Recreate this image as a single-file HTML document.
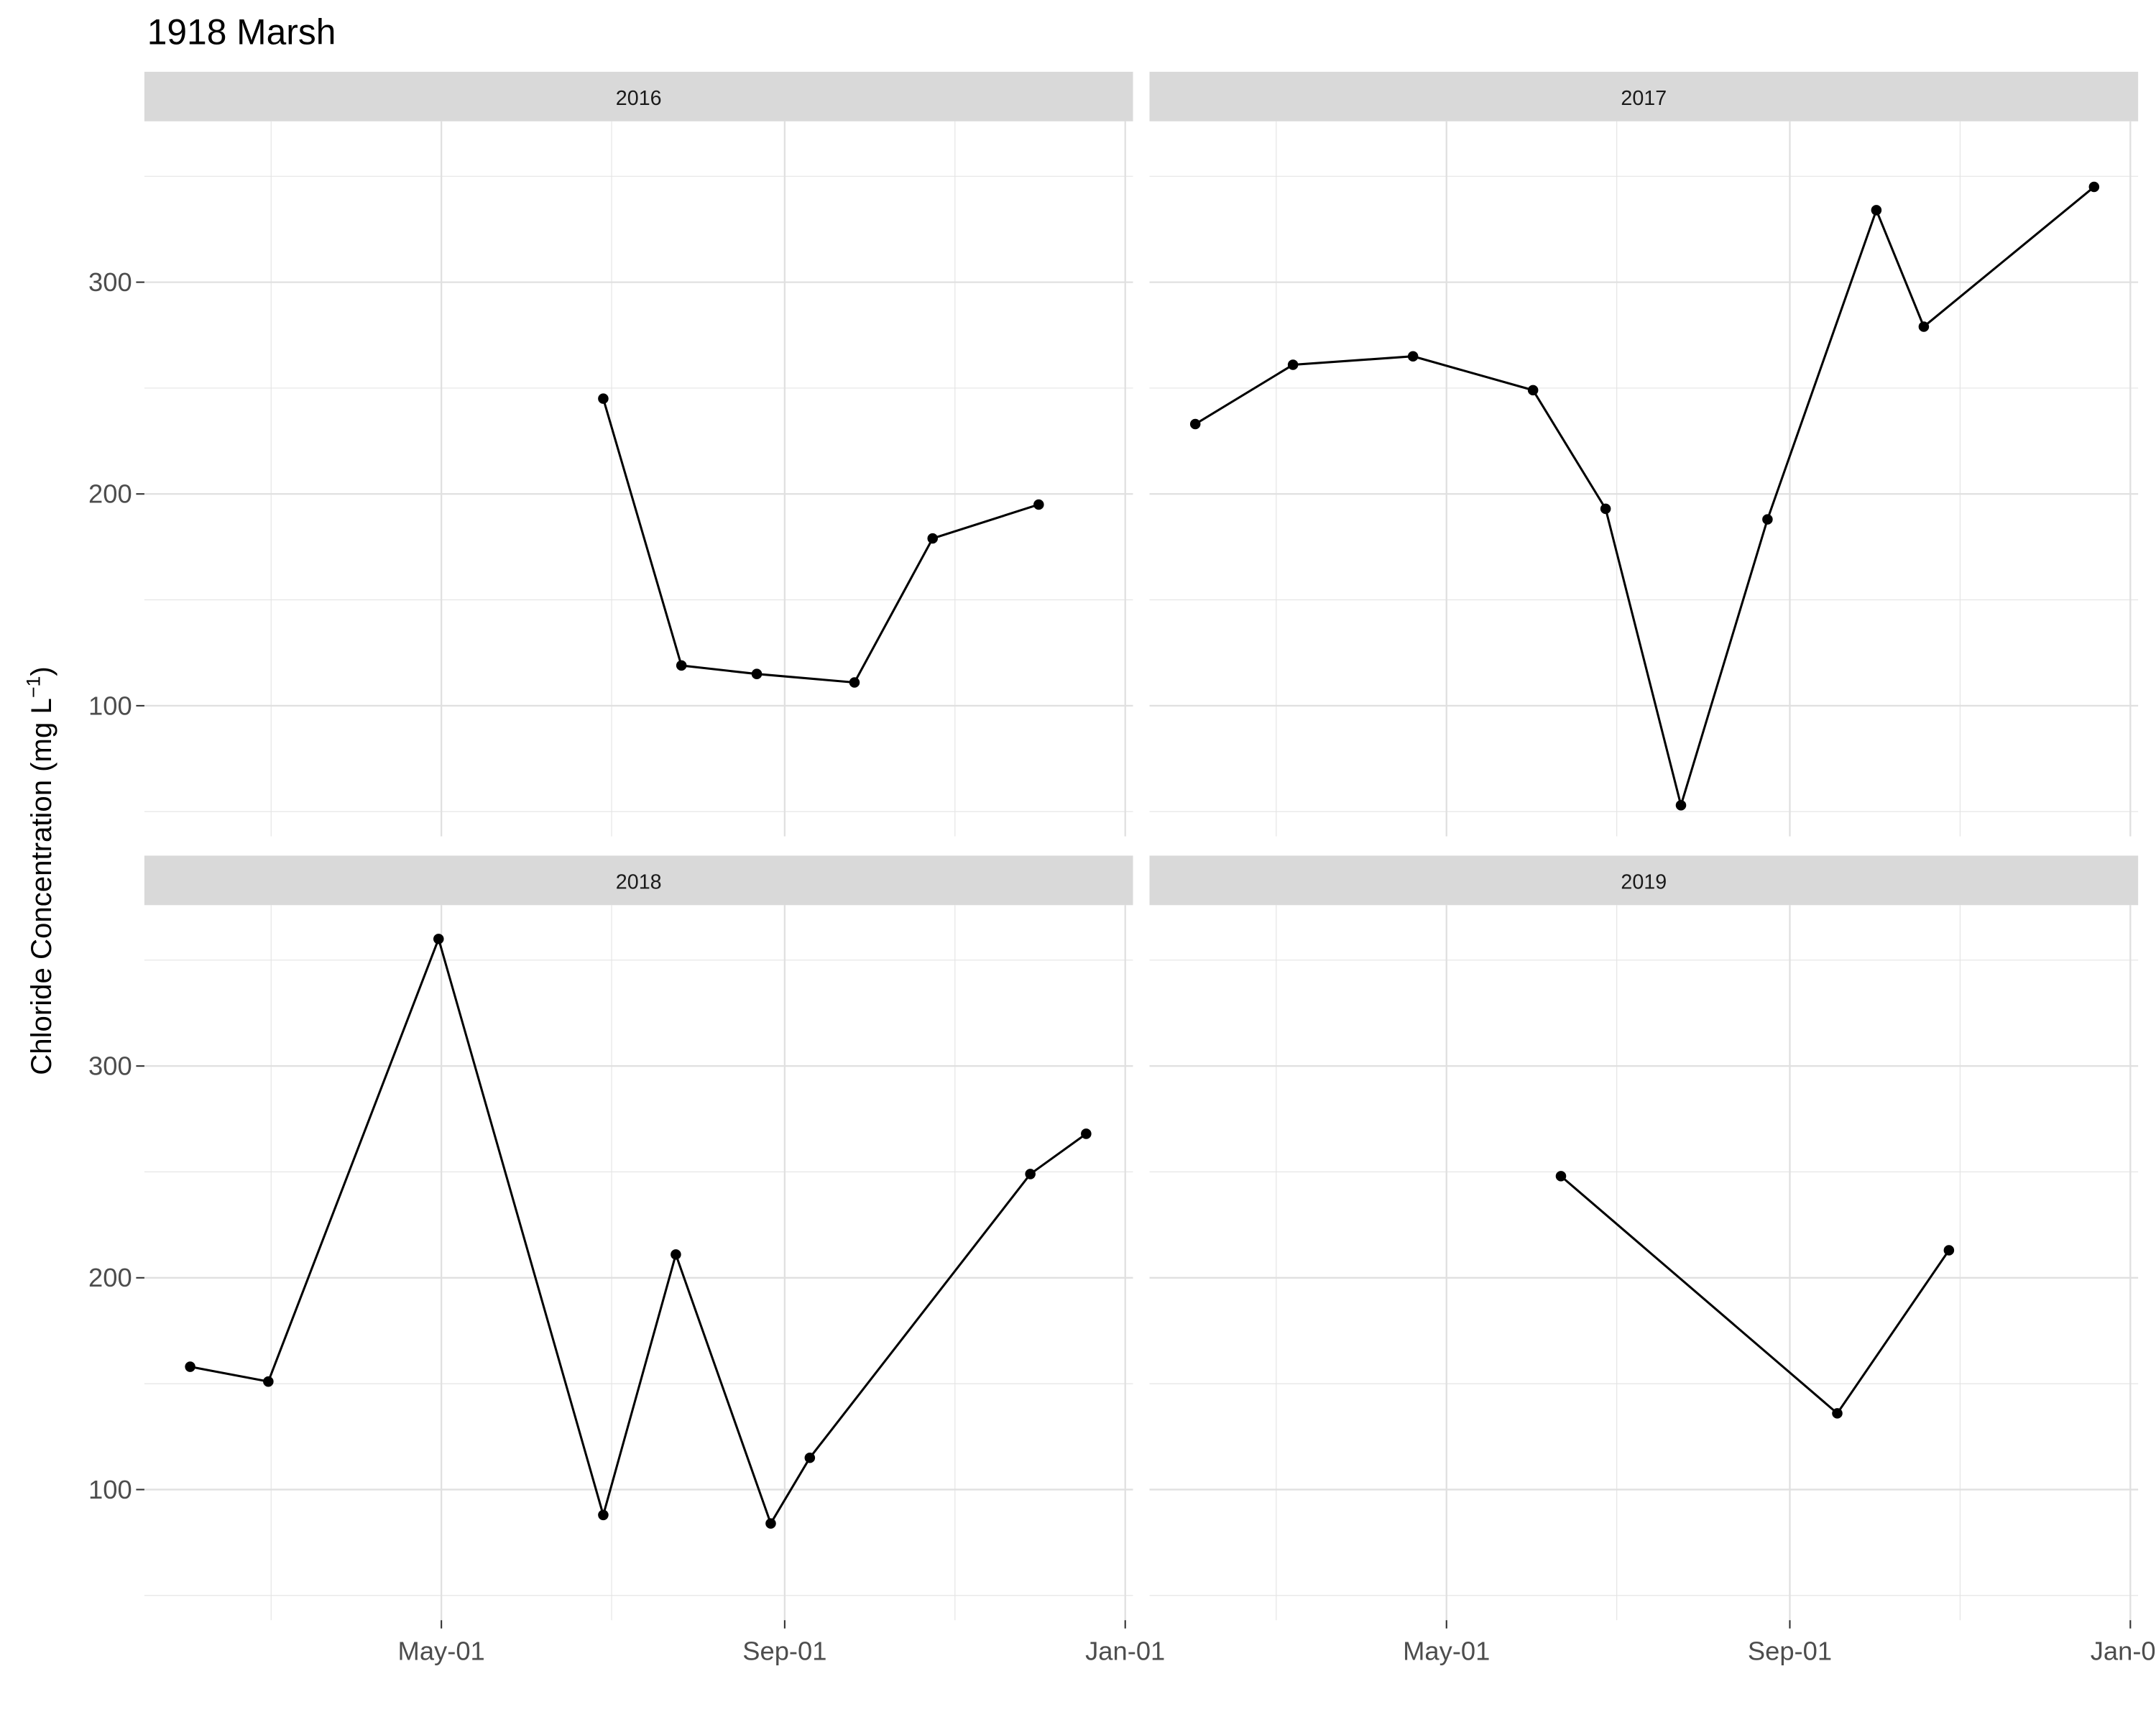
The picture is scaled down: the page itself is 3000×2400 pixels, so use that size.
<!DOCTYPE html>
<html><head><meta charset="utf-8"><style>
html,body{margin:0;padding:0;background:#fff;}
svg{display:block;font-family:"Liberation Sans",Arial,sans-serif;}
</style></head><body>
<svg id="chart" width="3000" height="2400" viewBox="0 0 1568 1254" xmlns="http://www.w3.org/2000/svg">
<text x="107" y="32" font-size="26" fill="#000">1918 Marsh</text>
<text transform="translate(37,633) rotate(-90)" text-anchor="middle" font-size="21" fill="#000">Chloride Concentration (mg L<tspan dy="-8" font-size="14">−1</tspan><tspan dy="8">)</tspan></text>
<g id="panels"></g>
</svg>
<script>
// data: day-of-year and chloride values per facet
const years = ["2016","2017","2018","2019"];
const days2016 = [179,207,234,269,297,335];
const vals2016 = [245,119,115,111,179,195];
const days2017 = [31,66,109,152,178,205,236,275,292,353];
const vals2017 = [233,261,265,249,193,53,188,334,279,345];
const days2018 = [31,59,120,179,205,239,253,332,352];
const vals2018 = [158,151,360,88,211,84,115,249,268];
const days2019 = [162,261,301];
const vals2019 = [248,136,213];
const yTicks = [100,200,300];
const yMinor = [50,150,250,350];
const xTickDays = [121,244,366];
const xTickLabels = ["May-01","Sep-01","Jan-01"];
const xMinorDays = [60,182,305];

const NS="http://www.w3.org/2000/svg";
const g=document.getElementById('panels');
function el(t,a,p){const e=document.createElementNS(NS,t);for(const k in a)e.setAttribute(k,a[k]);(p||g).appendChild(e);return e;}
const panelX=[105,836,105,836], panelY=[88,88,658,658], W=719, H=520;
const series=[[days2016,vals2016],[days2017,vals2017],[days2018,vals2018],[days2019,vals2019]];
function xs(i,d){return panelX[i]+216+(d-121)*2.03;}
function ys(i,v){return panelY[i]+117+(300-v)*1.54;}
years.forEach((yr,i)=>{
  const grp=el('g',{});
  
  
  const px=panelX[i],py=panelY[i];
  const strip=el('rect',{x:px,y:py-36,width:W,height:36,fill:'#d9d9d9'},grp);
  
  
  const st=el('text',{x:px+W/2,y:py-12,'text-anchor':'middle','font-size':15,fill:'#1a1a1a'},grp);
  st.textContent=yr;
  
  
  yMinor.forEach(v=>{const y=ys(i,v);if(y>py&&y<py+H)el('line',{x1:px,x2:px+W,y1:y,y2:y,stroke:'#e4e4e4','stroke-width':0.6},grp);});
  xMinorDays.forEach(d=>{const x=xs(i,d);el('line',{x1:x,x2:x,y1:py,y2:py+H,stroke:'#e4e4e4','stroke-width':0.6},grp);});
  yTicks.forEach(v=>{const y=ys(i,v);el('line',{x1:px,x2:px+W,y1:y,y2:y,stroke:'#e0e0e0','stroke-width':1.2},grp);});
  xTickDays.forEach(d=>{const x=xs(i,d);el('line',{x1:x,x2:x,y1:py,y2:py+H,stroke:'#e0e0e0','stroke-width':1.2},grp);});
  if(i%2===0){yTicks.forEach(v=>{const y=ys(i,v);
    el('line',{x1:px-6,x2:px,y1:y,y2:y,stroke:'#333','stroke-width':1.1},grp);
    const t=el('text',{x:px-9,y:y+6.5,'text-anchor':'end','font-size':19,fill:'#4d4d4d'},grp);
    t.textContent=v;
    
    });}
  if(i>=2){xTickDays.forEach((d,k)=>{const x=xs(i,d);
    el('line',{x1:x,x2:x,y1:py+H,y2:py+H+6,stroke:'#333','stroke-width':1.1},grp);
    const t=el('text',{x:x,y:py+H+29,'text-anchor':'middle','font-size':19,fill:'#4d4d4d'},grp);
    t.textContent=xTickLabels[k];
    
    });}
  const [ds,vs]=series[i];
  const pts=ds.map((d,k)=>xs(i,d)+','+ys(i,vs[k])).join(' ');
  const pl=el('polyline',{points:pts,fill:'none',stroke:'#000','stroke-width':1.6},grp);
  
  
  ds.forEach((d,k)=>{const c=el('circle',{cx:xs(i,d),cy:ys(i,vs[k]),r:3.8,fill:'#000'},grp);
    
    });
});
</script>
</body></html>
